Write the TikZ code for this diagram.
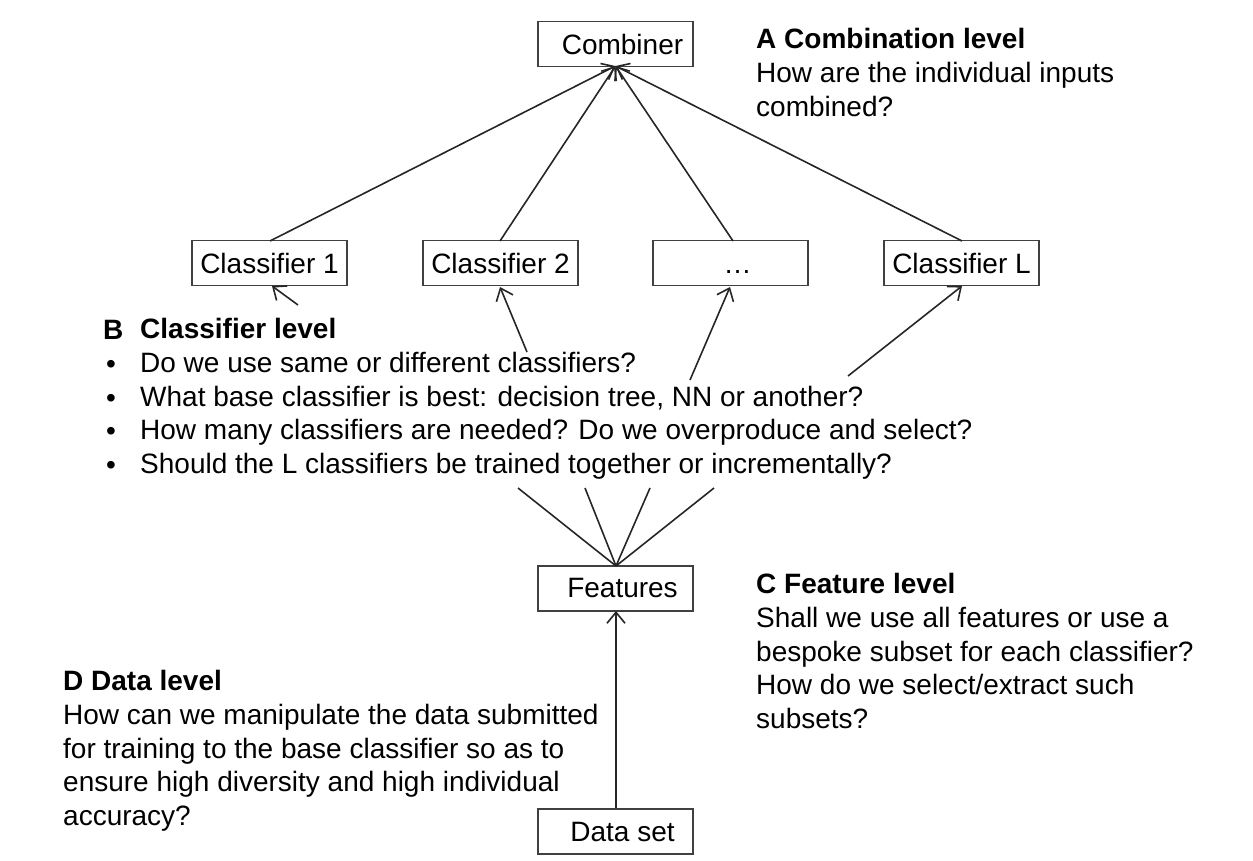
\documentclass[tikz,border=0pt]{standalone}
\usepackage{fontspec}
\setmainfont{Liberation Sans}
\usetikzlibrary{arrows.meta}
\begin{document}
\begin{tikzpicture}[x=1pt,y=-1pt,
  box/.style={draw=black!75,line width=1.4pt,minimum width=155pt,minimum height=45pt,inner sep=0pt,font=\fontsize{28}{32}\selectfont},
  txt/.style={anchor=north west,align=left,inner sep=0pt,font=\fontsize{28}{33.8}\selectfont},
  conn/.style={line width=1.6pt,black!85},
  arr/.style={conn,-{Straight Barb[length=11pt,width=18pt,line width=1.6pt]}}]
\useasboundingbox (0,0) rectangle (1253,861);
\node[box] (comb) at (615.5,44) {\hspace*{14pt}Combiner};
\node[box] (c1) at (269.5,263) {Classifier 1};
\node[box] (c2) at (500.5,263) {Classifier 2};
\node[box] (cd) at (730.5,263) {\hspace*{14pt}\vphantom{Cl}…};
\node[box] (cL) at (961.5,263) {Classifier L};
\node[box] (feat) at (615.5,588.5) {\hspace*{14pt}Features};
\node[box] (data) at (615.5,831.5) {\hspace*{14pt}Data set};
\coordinate (cb) at (615.5,66);
\draw[arr] (270,241) -- (cb);
\draw[arr] (500,241) -- (cb);
\draw[arr] (733,241) -- (cb);
\draw[arr] (962,241) -- (cb);
\coordinate (a1) at (298,305);
\coordinate (a2) at (527,352);
\coordinate (a3) at (690,380);
\coordinate (a4) at (848,376);
\draw[arr] (a1) -- (272,286);
\draw[arr] (a2) -- (500,287);
\draw[arr] (a3) -- (730,287);
\draw[arr] (a4) -- (962,286);
\coordinate (f1) at (518,488);
\coordinate (f2) at (585,488);
\coordinate (f3) at (650,488);
\coordinate (f4) at (714,488);
\coordinate (ft) at (616,566);
\draw[conn] (f1) -- (ft);
\draw[conn] (f2) -- (ft);
\draw[conn] (f3) -- (ft);
\draw[conn] (f4) -- (ft);
\draw[arr] (data.north -| 616,0) -- (616,611);
\node[txt] (tA) at (756,28) {\textbf{A Combination level}\\How are the individual inputs\\combined?};
\node[txt] (tBm) at (103,320) {\textbf{B}\\\hspace*{3pt}•\\\hspace*{3pt}•\\\hspace*{3pt}•\\\hspace*{3pt}•};
\node[txt] (tB) at (140,318) {\textbf{Classifier level}\\Do we use same or different classifiers?\\What base classifier is best: decision tree, NN or another?\\How many classifiers are needed? Do we overproduce and select?\\Should the L classifiers be trained together or incrementally?};
\node[txt] (tC) at (756,573) {\textbf{C Feature level}\\Shall we use all features or use a\\bespoke subset for each classifier?\\How do we select/extract such\\subsets?};
\node[txt] (tD) at (63,670) {\textbf{D Data level}\\How can we manipulate the data submitted\\for training to the base classifier so as to\\ensure high diversity and high individual\\accuracy?};
\end{tikzpicture}
\end{document}
